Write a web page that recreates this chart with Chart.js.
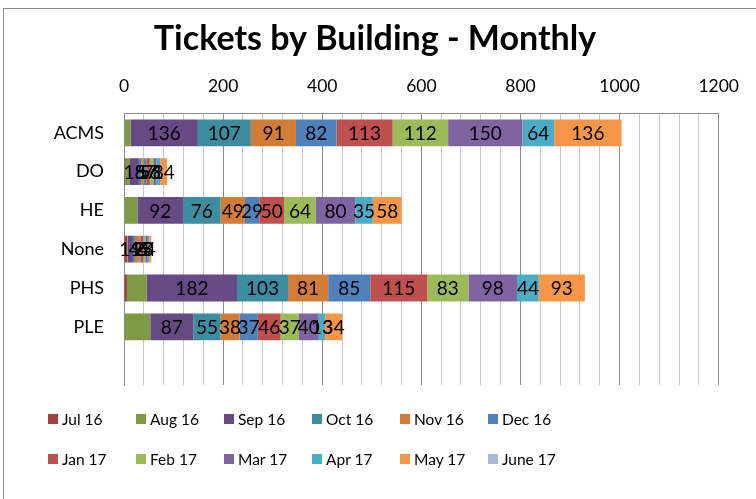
<!DOCTYPE html>
<html>
<head>
<meta charset="utf-8">
<script src="https://cdn.jsdelivr.net/npm/chart.js@4.4.0/dist/chart.umd.min.js"></script>
<style>
  body { margin: 0; background: #fff; }
  #wrap { position: relative; width: 756px; height: 499px; overflow: hidden; }
  #frame { position: absolute; left: 3px; top: 8px; width: 800px; height: 600px; border: 1px solid #8a8a8a; box-sizing: border-box; }
  #legend { position: absolute; left: 48px; top: 408px; display: grid; grid-template-columns: repeat(6, 88px); row-gap: 19px;
    font-family: Lato, sans-serif; font-size: 15.5px; color: #000; }
  #legend div { display: flex; align-items: center; height: 21px; white-space: nowrap; }
  #legend span.box { width: 10px; height: 10px; margin-right: 4px; flex: none; }
</style>
</head>
<body>
<div id="wrap">
  <div id="frame"></div>
  <canvas id="chartTickets" width="756" height="499"></canvas>
  <div id="legend"></div>
</div>
<script>
const edificios = ['ACMS', 'DO', 'HE', 'None', 'PHS', 'PLE', ''];
const meses = ['Jul 16', 'Aug 16', 'Sep 16', 'Oct 16', 'Nov 16', 'Dec 16',
               'Jan 17', 'Feb 17', 'Mar 17', 'Apr 17', 'May 17', 'June 17'];
const colores = ['#A2403F', '#7E9A46', '#674A84', '#3C8DA0', '#D37C36', '#4F81BD',
                 '#C0504D', '#9BBB59', '#8064A2', '#4BACC6', '#F79646', '#A9B8D8'];

const jul16 = [0, 2, 0, 6, 6, 1, null];
const aug16 = [13, 10, 27, 1, 40, 52, null];
const sep16 = [136, 18, 92, 11, 182, 87, null];
const oct16 = [107, 5, 76, 4, 103, 55, null];
const nov16 = [91, 5, 49, 9, 81, 38, null];
const dec16 = [82, 5, 29, 2, 85, 37, null];
const jan17 = [113, 7, 50, 6, 115, 46, null];
const feb17 = [112, 7, 64, 4, 83, 37, null];
const mar17 = [150, 6, 80, 5, 98, 40, null];
const apr17 = [64, 8, 35, 3, 44, 13, null];
const may17 = [136, 14, 58, 4, 93, 34, null];
const jun17 = [null, null, null, null, null, null, null];

const series = [jul16, aug16, sep16, oct16, nov16, dec16, jan17, feb17, mar17, apr17, may17, jun17];
const ticksX = [0, 200, 400, 600, 800, 1000, 1200];

// etiquetas de datos dentro de cada segmento (desde Sep 16)
const etiquetas = {
  id: 'etiquetas',
  afterDatasetsDraw(chart) {
    const c = chart.ctx;
    c.save();
    c.font = '19px Lato, sans-serif';
    c.fillStyle = '#000';
    c.textAlign = 'center';
    c.textBaseline = 'middle';
    chart.data.datasets.forEach((ds, i) => {
      if (i < 2) return;
      chart.getDatasetMeta(i).data.forEach((bar, j) => {
        const v = ds.data[j];
        if (!v) return;
        c.fillText(v, (bar.x + bar.base) / 2, bar.y + 1);
      });
    });
    c.restore();
  }
};

const chart = new Chart(document.getElementById('chartTickets'), {
  type: 'bar',
  data: {
    labels: edificios,
    datasets: series.map((d, i) => ({
      label: meses[i],
      data: d,
      backgroundColor: colores[i],
      borderWidth: 0,
      categoryPercentage: 1,
      barPercentage: 0.69
    }))
  },
  options: {
    indexAxis: 'y',
    responsive: false,
    animation: false,
    layout: {padding: {left: 30, right: 36, top: 0, bottom: 114}},
    plugins: {
      legend: {display: false},
      tooltip: {enabled: false},
      title: {
        display: true,
        text: 'Tickets by Building - Monthly',
        color: '#000',
        font: {family: 'Lato, sans-serif', size: 34, weight: 'bold', lineHeight: 1.1},
        padding: {top: 20, bottom: 0}
      }
    },
    scales: {
      x: {
        position: 'top',
        stacked: true,
        min: 0,
        max: 1200,
        afterFit: s => { s.height = 56; },
        ticks: {
          stepSize: 40,
          autoSkip: false,
          maxRotation: 0,
          padding: 17,
          color: '#000',
          font: {family: 'Lato, sans-serif', size: 17.5},
          callback: v => ticksX.includes(v) ? v : ''
        },
        grid: {
          drawTicks: false,
          color: ctx => (ctx.tick && ctx.tick.value % 200 === 0) ? '#8c8c8c' : '#c8c8c8'
        },
        border: {color: '#8c8c8c'}
      },
      y: {
        stacked: true,
        afterFit: s => { s.width = 94; },
        ticks: {
          padding: 20,
          color: '#000',
          font: {family: 'Lato, sans-serif', size: 18}
        },
        grid: {display: false, drawTicks: false},
        border: {color: '#8c8c8c'}
      }
    }
  },
  plugins: [etiquetas]
});

const leyenda = document.getElementById('legend');
chart.data.datasets.forEach(ds => {
  const item = document.createElement('div');
  item.innerHTML = '<span class="box" style="background:' + ds.backgroundColor + '"></span>' + ds.label;
  leyenda.appendChild(item);
});
</script>
</body>
</html>
